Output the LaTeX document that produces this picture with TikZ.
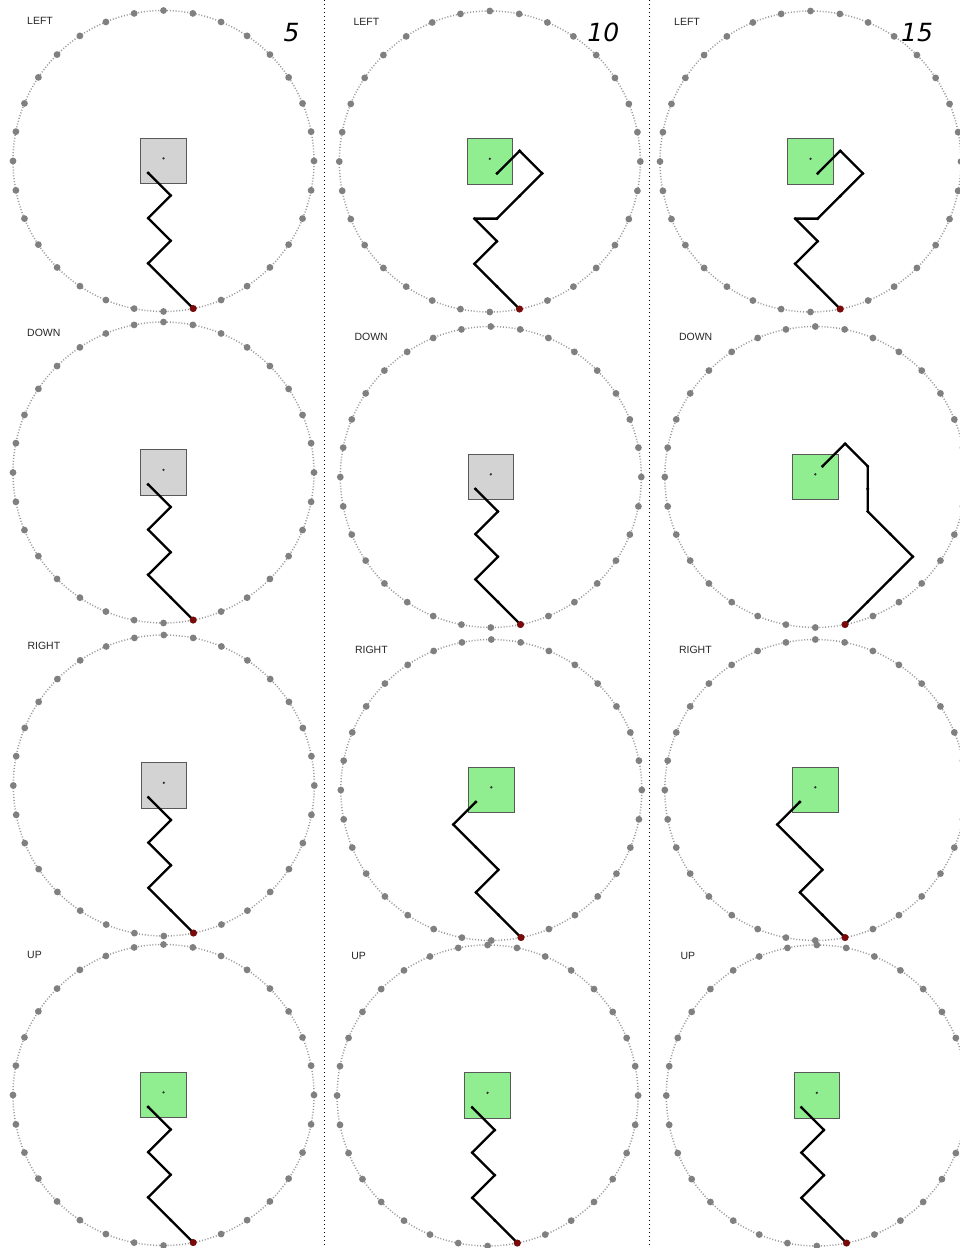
\documentclass[tikz,border=0pt]{standalone}
\usepackage{fontspec}
\setmainfont{Liberation Sans}
\newfontfamily\numfont{DejaVu Sans}
\usetikzlibrary{calc}
\definecolor{boxgray}{HTML}{D3D3D3}
\definecolor{boxgreen}{HTML}{90EE90}
\definecolor{ringdot}{HTML}{808080}
\definecolor{ringline}{HTML}{9A9A9A}
\definecolor{startred}{HTML}{7A0A0A}
\tikzset{
  ring/.style={draw=ringline, line width=1.5pt, dash pattern=on 1pt off 1.9pt},
  bigdot/.style={circle, fill=ringdot, inner sep=0pt, minimum size=6.8pt},
  reddot/.style={circle, fill=startred, inner sep=0pt, minimum size=7pt},
  stepdot/.style={circle, fill=black, inner sep=0pt, minimum size=3.4pt},
  walk/.style={draw=black, line width=2.3pt, line join=round, line cap=round},
  box/.style={draw=black!65, line width=1pt, minimum size=45.4pt, inner sep=0pt},
  centerdot/.style={circle, fill=black!80, inner sep=0pt, minimum size=2.6pt},
  dirlabel/.style={anchor=west, font=\fontsize{10.5}{12}\selectfont, text=black!85, inner sep=0pt},
  numlabel/.style={font=\numfont\itshape\fontsize{25}{30}\selectfont, inner sep=0pt},
  sepline/.style={draw=black, line width=1pt, dash pattern=on 1pt off 3pt},
}
\newcommand{\panel}[5]{%
  \coordinate (#1c) at (#2,#3);
  \draw[ring] (#1c) circle[radius=150.5];
  \foreach \k in {0,...,31} {\node[bigdot] (#1d\k) at ($(#1c)+({90+\k*11.25}:150.5)$) {};}
  \node[box, fill=#4] (#1sq) at (#1c) {};
  \node[centerdot] (#1ctr) at ($(#1c)+(0,2.7)$) {};
  \node[dirlabel] (#1lab) at ($(#1c)+(-136.5,140)$) {#5};
}
\newcommand{\walkpath}[2]{%
  \coordinate (#1p0) at ($(#1c)+(29.8,-147.5)$);
  \foreach [count=\i] \dx/\dy in {#2} {
    \pgfmathtruncatemacro\jprev{\i-1}
    \coordinate (#1p\i) at ($(#1p\jprev)+(\dx*22.6,\dy*22.6)$);
    \global\let\lastn\i
  }
  \draw[walk] (#1p0) \foreach \i in {1,...,\lastn} { -- (#1p\i) };
  \foreach \i in {1,...,\lastn} { \node[stepdot] (#1s\i) at (#1p\i) {}; }
  \node[reddot] (#1red) at (#1p0) {};
}
\def\pathA{-1/1,-1/1,1/1,-1/1,1/1,-1/1}
\def\pathB{-1/1,-1/1,1/1,-1/1,1/0,1/1,1/1,-1/1,-1/-1}
\def\pathC{1/1,1/1,1/1,-1/1,-1/1,0/1,0/1,-1/1,-1/-1}
\def\pathD{-1/1,-1/1,1/1,-1/1,-1/1,1/1}
\newcommand{\dowalk}[2]{\expandafter\walkpath\expandafter{\romannumeral-`0#1}{#2}}
\begin{document}
\begin{tikzpicture}[x=1pt,y=1pt]
\path[use as bounding box, fill=white] (0,0) rectangle (960,-1248);
% separators
\coordinate (s1t) at (324.5,0); \coordinate (s1b) at (324.5,-1248);
\coordinate (s2t) at (649.5,0); \coordinate (s2b) at (649.5,-1248);
\draw[sepline] (s1t) -- (s1b);
\draw[sepline] (s2t) -- (s2b);
% column 1
\panel{La}{163.5}{-161}{boxgray}{LEFT}
\expandafter\walkpath\expandafter{\expandafter L\expandafter a\expandafter}\expandafter{\pathA}
\panel{Da}{163.5}{-472.5}{boxgray}{DOWN}
\expandafter\walkpath\expandafter{\expandafter D\expandafter a\expandafter}\expandafter{\pathA}
\panel{Ra}{163.8}{-785.5}{boxgray}{RIGHT}
\expandafter\walkpath\expandafter{\expandafter R\expandafter a\expandafter}\expandafter{\pathA}
\panel{Ua}{163.5}{-1095}{boxgreen}{UP}
\expandafter\walkpath\expandafter{\expandafter U\expandafter a\expandafter}\expandafter{\pathA}
% column 2
\panel{Lb}{489.8}{-161.5}{boxgreen}{LEFT}
\expandafter\walkpath\expandafter{\expandafter L\expandafter b\expandafter}\expandafter{\pathB}
\panel{Db}{490.8}{-477}{boxgray}{DOWN}
\expandafter\walkpath\expandafter{\expandafter D\expandafter b\expandafter}\expandafter{\pathA}
\panel{Rb}{491.3}{-790}{boxgreen}{RIGHT}
\expandafter\walkpath\expandafter{\expandafter R\expandafter b\expandafter}\expandafter{\pathD}
\panel{Ub}{487.6}{-1095.5}{boxgreen}{UP}
\expandafter\walkpath\expandafter{\expandafter U\expandafter b\expandafter}\expandafter{\pathA}
% column 3
\panel{Lc}{810.5}{-161.5}{boxgreen}{LEFT}
\expandafter\walkpath\expandafter{\expandafter L\expandafter c\expandafter}\expandafter{\pathB}
\panel{Dc}{815.3}{-477}{boxgreen}{DOWN}
\expandafter\walkpath\expandafter{\expandafter D\expandafter c\expandafter}\expandafter{\pathC}
\panel{Rc}{815.3}{-790}{boxgreen}{RIGHT}
\expandafter\walkpath\expandafter{\expandafter R\expandafter c\expandafter}\expandafter{\pathD}
\panel{Uc}{816.8}{-1095.5}{boxgreen}{UP}
\expandafter\walkpath\expandafter{\expandafter U\expandafter c\expandafter}\expandafter{\pathA}
% step counts
\node[numlabel] (n5) at (291.5,-32.5) {5};
\node[numlabel] (n10) at (603.3,-32.5) {10};
\node[numlabel] (n15) at (917,-32.5) {15};
\end{tikzpicture}
\end{document}
